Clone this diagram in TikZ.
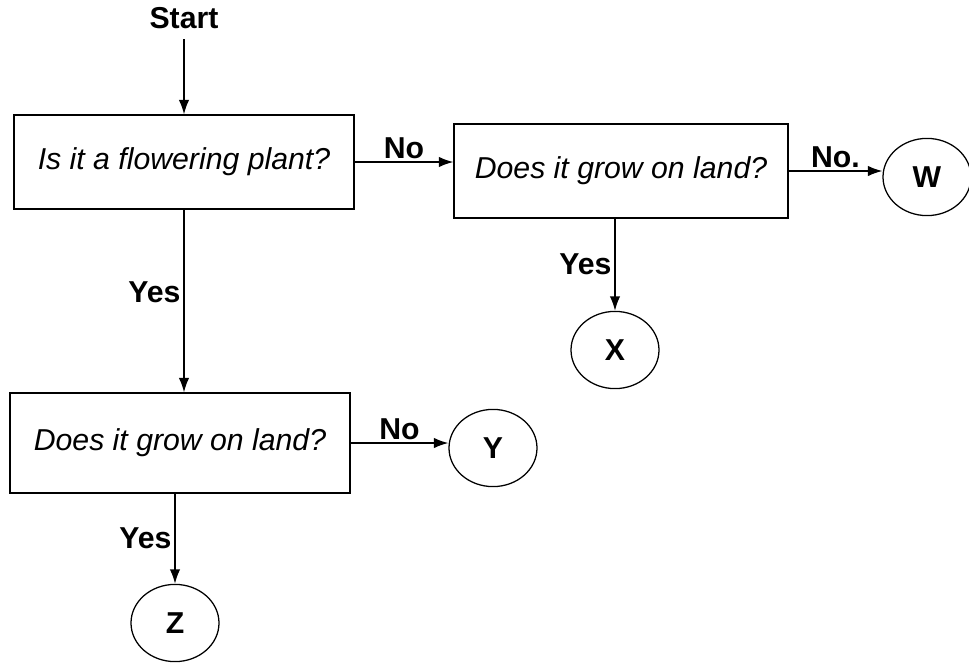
\documentclass[tikz,border=0pt]{standalone}
\usepackage{fontspec}
\setmainfont{Liberation Sans}
\usetikzlibrary{shapes.geometric,arrows.meta}

\tikzset{
  question/.style={draw, line width=0.9pt, minimum width=85mm, minimum height=23.5mm, font=\itshape},
  leaf/.style={draw, ellipse, line width=0.9pt, minimum width=22mm, minimum height=19.3mm, font=\bfseries},
  answer/.style={font=\bfseries, inner sep=2pt},
  flow/.style={line width=1.1pt, -{Latex[length=3.6mm,width=2.6mm]}}
}

\begin{document}
\begin{tikzpicture}[x=0.25mm, y=-0.25mm]
        \fontsize{21.5}{26}\selectfont
        \useasboundingbox (0,0) rectangle (969,665);
        \node[font=\bfseries] (start) at (184,18) {Start};
        \node[question] (plant) at (184,162) {Is it a flowering plant?};
        \node[question, minimum width=83.5mm] (land1) at (621,171) {Does it grow on land?};
        \node[question, minimum height=25mm] (land2) at (180,443) {Does it grow on land?};
        \node[leaf] (w) at (927,177) {W};
        \node[leaf] (x) at (615,350) {X};
        \node[leaf] (y) at (493,448) {Y};
        \node[leaf] (z) at (175,623) {Z};
        \draw[flow] (start) -- (plant);
        \draw[flow] (plant.east) -- node[answer, above] {No} (plant.east -| land1.west);
        \draw[flow] (land1.east) -- node[answer, above] {No.} (land1.east -| w.west);
        \draw[flow] (land1.south -| x.north) -- node[answer, left] {Yes} (x.north);
        \draw[flow] (plant.south) -- node[answer, left, pos=0.45] {Yes} (plant.south |- land2.north);
        \draw[flow] (land2.east) -- node[answer, above] {No} (land2.east -| y.west);
        \draw[flow] (land2.south -| z.north) -- node[answer, left] {Yes} (z.north);
    \end{tikzpicture}
\end{document}
